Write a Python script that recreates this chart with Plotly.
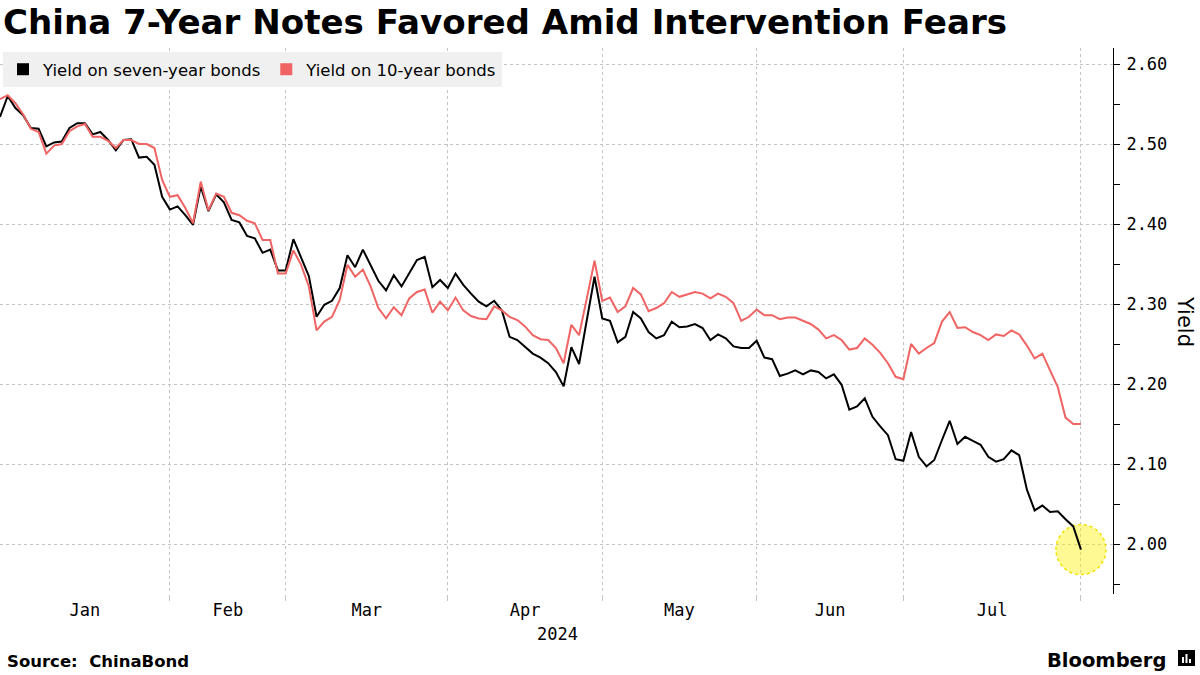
import plotly.graph_objects as go

# ---------------- data ----------------
months = ["Jan", "Feb", "Mar", "Apr", "May", "Jun", "Jul"]
# trading-day index at which each month starts (last entry = last observation)
month_start_idx = [0, 22, 37, 58, 78, 98, 117, 140]
year_label = "2024"

seven_year = [
    2.534, 2.560, 2.545, 2.536, 2.520, 2.519, 2.497, 2.502, 2.503, 2.520,
    2.526, 2.526, 2.512, 2.515, 2.505, 2.492, 2.505, 2.506, 2.483, 2.484,
    2.474, 2.434, 2.418, 2.422, 2.411, 2.399, 2.447, 2.416, 2.437, 2.427,
    2.405, 2.402, 2.385, 2.382, 2.364, 2.368, 2.342, 2.342, 2.381, 2.358,
    2.335, 2.284, 2.299, 2.304, 2.320, 2.361, 2.346, 2.368, 2.349, 2.329,
    2.317, 2.336, 2.322, 2.338, 2.355, 2.359, 2.321, 2.330, 2.320, 2.338,
    2.324, 2.313, 2.303, 2.297, 2.304, 2.292, 2.259, 2.255, 2.246, 2.238,
    2.233, 2.226, 2.215, 2.197, 2.246, 2.225, 2.280, 2.334, 2.282, 2.279,
    2.252, 2.259, 2.290, 2.282, 2.265, 2.257, 2.261, 2.278, 2.271, 2.272,
    2.275, 2.270, 2.255, 2.262, 2.257, 2.247, 2.245, 2.245, 2.254, 2.233,
    2.231, 2.210, 2.213, 2.217, 2.212, 2.217, 2.215, 2.207, 2.212, 2.199,
    2.168, 2.172, 2.182, 2.159, 2.147, 2.136, 2.106, 2.104, 2.140, 2.109,
    2.097, 2.105, 2.130, 2.154, 2.125, 2.134, 2.129, 2.124, 2.109, 2.103,
    2.106, 2.117, 2.111, 2.068, 2.042, 2.048, 2.040, 2.041, 2.031, 2.022,
    1.993,
]

ten_year = [
    2.556, 2.561, 2.551, 2.537, 2.519, 2.515, 2.488, 2.498, 2.500, 2.516,
    2.522, 2.525, 2.509, 2.509, 2.504, 2.495, 2.505, 2.505, 2.500, 2.500,
    2.495, 2.455, 2.434, 2.436, 2.420, 2.401, 2.453, 2.417, 2.438, 2.434,
    2.414, 2.411, 2.404, 2.401, 2.380, 2.380, 2.338, 2.338, 2.367, 2.349,
    2.322, 2.267, 2.278, 2.284, 2.305, 2.349, 2.334, 2.343, 2.322, 2.295,
    2.282, 2.296, 2.286, 2.307, 2.315, 2.318, 2.289, 2.303, 2.292, 2.308,
    2.292, 2.285, 2.282, 2.281, 2.297, 2.292, 2.284, 2.280, 2.272, 2.261,
    2.256, 2.255, 2.245, 2.226, 2.274, 2.261, 2.307, 2.354, 2.304, 2.308,
    2.290, 2.297, 2.320, 2.312, 2.291, 2.295, 2.301, 2.315, 2.309, 2.312,
    2.315, 2.313, 2.307, 2.313, 2.309, 2.301, 2.279, 2.284, 2.293, 2.286,
    2.286, 2.281, 2.283, 2.283, 2.279, 2.275, 2.268, 2.257, 2.261, 2.255,
    2.243, 2.245, 2.257, 2.249, 2.239, 2.226, 2.209, 2.206, 2.250, 2.238,
    2.245, 2.251, 2.278, 2.290, 2.270, 2.271, 2.265, 2.261, 2.255, 2.262,
    2.260, 2.267, 2.262, 2.248, 2.232, 2.238, 2.217, 2.196, 2.158, 2.150,
    2.150,
]

y_ticks = [2.00, 2.10, 2.20, 2.30, 2.40, 2.50, 2.60]

# ---------------- layout constants ----------------
W, H = 1200, 675
ML, MR, MT, MB = 0, 87, 48, 81
PW, PH = W - ML - MR, H - MT - MB
x_range = [0, 144.15]
y_range = [1.9375, 2.62]

BLACK = "#000000"
RED = "#f06464"
GRID = "#c4c4c4"
MONO = "DejaVu Sans Mono"
SANS = "DejaVu Sans"

x = list(range(len(seven_year)))
month_mid = [(a + b) / 2 for a, b in zip(month_start_idx[:-1], month_start_idx[1:])]


def px_to_paper_x(px):
    return (px - ML) / PW


def px_to_paper_y(py):
    return (H - MB - py) / PH


fig = go.Figure()

fig.add_trace(go.Scatter(x=x, y=seven_year, mode="lines",
                         line=dict(color=BLACK, width=2),
                         name="Yield on seven-year bonds", showlegend=False,
                         hoverinfo="skip"))
fig.add_trace(go.Scatter(x=x, y=ten_year, mode="lines",
                         line=dict(color=RED, width=2),
                         name="Yield on 10-year bonds", showlegend=False,
                         hoverinfo="skip"))
# legend entries with square swatches
fig.add_trace(go.Scatter(x=[None], y=[None], mode="markers",
                         marker=dict(symbol="square", size=12, color=BLACK),
                         name="Yield on seven-year bonds"))
fig.add_trace(go.Scatter(x=[None], y=[None], mode="markers",
                         marker=dict(symbol="square", size=12, color=RED),
                         name="Yield on 10-year bonds"))

# highlight circle at last observation
px_per_x = PW / (x_range[1] - x_range[0])
px_per_y = PH / (y_range[1] - y_range[0])
r_px = 25
cx, cy = x[-1], seven_year[-1]
fig.add_shape(type="circle", xref="x", yref="y",
              x0=cx - r_px / px_per_x, x1=cx + r_px / px_per_x,
              y0=cy - r_px / px_per_y, y1=cy + r_px / px_per_y,
              fillcolor="rgba(255,240,0,0.42)",
              line=dict(color="#f2e200", width=1.5, dash="dot"),
              layer="between")

fig.update_layout(
    width=W, height=H, autosize=False,
    margin=dict(l=ML, r=MR, t=MT, b=MB),
    paper_bgcolor="white", plot_bgcolor="white",
    title=dict(text="<b>China 7-Year Notes Favored Amid Intervention Fears</b>",
               x=3 / W, xanchor="left", xref="container",
               y=1 - 22 / H, yanchor="middle", yref="container",
               font=dict(family=SANS, size=34.1, color=BLACK)),
    showlegend=True,
    legend=dict(orientation="h", x=px_to_paper_x(3), y=px_to_paper_y(52),
                xanchor="left", yanchor="top",
                bgcolor="#f0f0f0", font=dict(family=SANS, size=16.5, color=BLACK),
                itemwidth=30, traceorder="normal"),
    xaxis=dict(range=x_range, tickmode="array", tickvals=month_mid, ticktext=months,
               ticks="", showgrid=False, showline=False, zeroline=False,
               ticklabelstandoff=4,
               tickfont=dict(family=MONO, size=17, color=BLACK),
               minor=dict(tickmode="array", tickvals=month_start_idx[1:],
                          ticks="outside", ticklen=6, tickcolor=GRID,
                          showgrid=True, gridcolor=GRID, griddash="dot", gridwidth=1)),
    yaxis=dict(range=y_range, side="right", tickmode="array", tickvals=y_ticks,
               tickformat=".2f", ticks="outside", ticklen=6, tickcolor=BLACK,
               showline=True, linecolor=BLACK, linewidth=1, zeroline=False,
               showgrid=True, gridcolor=GRID, griddash="dot", gridwidth=1,
               ticklabelstandoff=3,
               tickfont=dict(family=MONO, size=17, color=BLACK),
               minor=dict(tickmode="linear", tick0=1.95, dtick=0.1,
                          ticks="outside", ticklen=6, tickcolor=BLACK, showgrid=False)),
)

annotations = [
    dict(text=year_label, xref="paper", yref="paper",
         x=px_to_paper_x(557), y=px_to_paper_y(634), xanchor="center", yanchor="middle",
         showarrow=False, font=dict(family=MONO, size=17, color=BLACK)),
    dict(text="Yield", xref="paper", yref="paper",
         x=px_to_paper_x(1185), y=0.5, xanchor="center", yanchor="middle",
         textangle=90, showarrow=False, font=dict(family=SANS, size=21, color=BLACK)),
    dict(text="<b>Source:\u00a0 ChinaBond</b>", xref="paper", yref="paper",
         x=px_to_paper_x(5), y=px_to_paper_y(661), xanchor="left", yanchor="middle",
         showarrow=False, font=dict(family=SANS, size=16.5, color=BLACK)),
    dict(text="<b>Bloomberg</b>", xref="paper", yref="paper",
         x=px_to_paper_x(1168), y=px_to_paper_y(660), xanchor="right", yanchor="middle",
         showarrow=False, font=dict(family=SANS, size=19.5, color=BLACK)),
]
fig.update_layout(annotations=annotations)

# small Bloomberg-style icon
fig.add_shape(type="rect", xref="paper", yref="paper",
              x0=px_to_paper_x(1178), x1=px_to_paper_x(1195),
              y0=px_to_paper_y(666), y1=px_to_paper_y(650),
              fillcolor=BLACK, line=dict(width=0), layer="above")
for bx, top in [(1182, 657), (1185.5, 654), (1189, 659)]:
    fig.add_shape(type="rect", xref="paper", yref="paper",
                  x0=px_to_paper_x(bx), x1=px_to_paper_x(bx + 2),
                  y0=px_to_paper_y(663), y1=px_to_paper_y(top),
                  fillcolor="white", line=dict(width=0), layer="above")

fig.write_html("out.html",
               config={"displayModeBar": False},
               post_script="document.body.style.margin='0';document.body.style.overflow='hidden';")
